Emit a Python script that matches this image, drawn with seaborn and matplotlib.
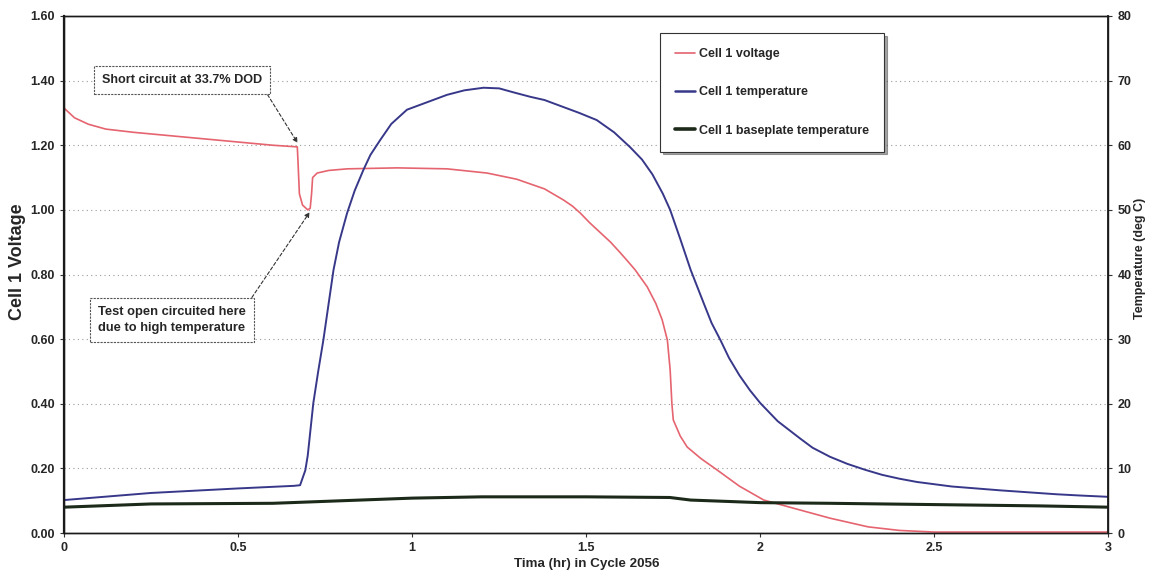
import matplotlib
matplotlib.use("Agg")
import matplotlib.pyplot as plt
import seaborn as sns
import pandas as pd
from matplotlib.lines import Line2D

# values
volt_t = [0.0, 0.03, 0.07, 0.12, 0.2, 0.3, 0.4, 0.5, 0.6, 0.67, 0.672, 0.676, 0.685, 0.70,
          0.707, 0.711, 0.714, 0.727, 0.76, 0.813, 0.957, 1.10, 1.215, 1.30, 1.38, 1.434,
          1.46, 1.483, 1.51, 1.54, 1.57, 1.598, 1.62, 1.64, 1.675, 1.70, 1.718, 1.733, 1.741,
          1.746, 1.75, 1.77, 1.79, 1.83, 1.876, 1.94, 2.01, 2.115, 2.2, 2.31, 2.4, 2.5, 3.0]
volt_v = [1.315, 1.285, 1.265, 1.25, 1.24, 1.23, 1.22, 1.21, 1.20, 1.195, 1.15, 1.05, 1.015,
          1.0, 1.005, 1.05, 1.10, 1.114, 1.122, 1.127, 1.13, 1.127, 1.114, 1.095, 1.065, 1.031,
          1.012, 0.99, 0.96, 0.93, 0.90, 0.867, 0.84, 0.815, 0.762, 0.71, 0.66, 0.597, 0.505,
          0.40, 0.35, 0.30, 0.266, 0.23, 0.195, 0.145, 0.102, 0.071, 0.046, 0.019, 0.008,
          0.003, 0.003]

temp_t = [0.0, 0.25, 0.5, 0.66, 0.678, 0.693, 0.70, 0.716, 0.73, 0.745, 0.76, 0.774, 0.79,
          0.813, 0.835, 0.86, 0.88, 0.908, 0.94, 0.985, 1.05, 1.10, 1.15, 1.205, 1.25, 1.29,
          1.339, 1.38, 1.43, 1.48, 1.53, 1.58, 1.626, 1.66, 1.69, 1.72, 1.741, 1.77, 1.80,
          1.84, 1.86, 1.885, 1.91, 1.94, 1.97, 2.0, 2.05, 2.115, 2.15, 2.2, 2.25, 2.3, 2.35,
          2.4, 2.45, 2.55, 2.62, 2.69, 2.77, 2.85, 2.92, 3.0]
temp_c = [5.1, 6.2, 6.9, 7.3, 7.4, 9.7, 12.0, 20.1, 25.0, 29.9, 35.5, 40.7, 45.0,
          49.5, 53.0, 56.2, 58.5, 60.8, 63.3, 65.5, 66.8, 67.8, 68.5, 68.9, 68.8, 68.2,
          67.5, 67.0, 66.0, 65.0, 63.9, 62.0, 59.7, 57.8, 55.5, 52.5, 50.0, 45.5, 40.7,
          35.2, 32.5, 29.9, 27.1, 24.4, 22.1, 20.1, 17.3, 14.6, 13.2, 11.8, 10.7, 9.8, 9.0,
          8.4, 7.9, 7.2, 6.9, 6.6, 6.3, 6.0, 5.8, 5.6]

base_t = [0.0, 0.25, 0.6, 0.8, 1.0, 1.2, 1.5, 1.74, 1.8, 2.0, 2.2, 2.5, 2.8, 3.0]
base_c = [4.0, 4.5, 4.6, 5.0, 5.4, 5.6, 5.6, 5.5, 5.1, 4.7, 4.6, 4.4, 4.2, 4.0]

labels = ["Cell 1 voltage", "Cell 1 temperature", "Cell 1 baseplate temperature"]
colors = ["#e5646f", "#38388a", "#1c2a1a"]

sns.set_style("white")
plt.rcParams["font.family"] = ["Liberation Sans", "DejaVu Sans"]
plt.rcParams["font.weight"] = "bold"

fig = plt.figure(figsize=(11.52, 5.86), dpi=100)
ax = fig.add_axes([0.0556, 0.0904, 0.9066, 0.8823])
ax2 = ax.twinx()

dv = pd.DataFrame({"t": volt_t, "v": volt_v})
dt = pd.DataFrame({"t": temp_t, "c": temp_c})
db = pd.DataFrame({"t": base_t, "c": base_c})

sns.lineplot(data=dv, x="t", y="v", ax=ax, color=colors[0], lw=1.2)
sns.lineplot(data=dt, x="t", y="c", ax=ax2, color=colors[1], lw=1.4)
sns.lineplot(data=db, x="t", y="c", ax=ax2, color=colors[2], lw=2.2)

ax.set_xlim(0, 3)
ax.set_ylim(0, 1.6)
ax2.set_ylim(0, 80)
ax.set_yticks([i * 0.2 for i in range(9)])
ax.set_yticklabels([f"{i * 0.2:.2f}" for i in range(9)], fontsize=9, fontweight="bold")
ax2.set_yticks(range(0, 81, 10))
ax2.set_yticklabels([str(v) for v in range(0, 81, 10)], fontsize=9, fontweight="bold")
ax.set_xticks([0, 0.5, 1, 1.5, 2, 2.5, 3])
ax.set_xticklabels(["0", "0.5", "1", "1.5", "2", "2.5", "3"], fontsize=9, fontweight="bold")
ax.tick_params(axis="both", length=3, direction="out", color="#333333", left=True, bottom=True)
ax2.tick_params(axis="y", length=3, direction="out", color="#333333", right=True)
ax.yaxis.grid(True, linestyle=(0, (1, 3)), color="#9a9a9a", lw=0.8)
ax.xaxis.grid(False)
ax2.grid(False)

ax.set_xlabel("Tima (hr) in Cycle 2056", fontsize=9.6, fontweight="bold", labelpad=3)
ax.set_ylabel("Cell 1 Voltage", fontsize=13, fontweight="bold")
ax.yaxis.set_label_coords(-0.036, 0.524)
ax2.set_ylabel("Temperature (deg C)", fontsize=9, fontweight="bold")
ax2.yaxis.set_label_coords(1.024, 0.532)

for a in (ax, ax2):
    for s in a.spines.values():
        s.set_color("#1a1a1a")
        s.set_linewidth(1.0)
ax.spines["left"].set_linewidth(1.6)
ax2.spines["right"].set_linewidth(1.3)

box = dict(boxstyle="square,pad=0.65", fc="white", ec="#555555", lw=0.8, ls=(0, (2, 1)))
ax.annotate("Short circuit at 33.7% DOD", xy=(0.675, 1.2), xytext=(0.339, 1.402),
            fontsize=9.1, fontweight="bold", bbox=box, va="center", ha="center",
            arrowprops=dict(arrowstyle="-|>", color="#333333", lw=0.8, ls=(0, (3, 2)),
                            shrinkA=0, shrinkB=2, mutation_scale=7,
                            relpos=(1.0, 0.0)))
ax.annotate("Test open circuited here\ndue to high temperature", xy=(0.71, 1.0),
            xytext=(0.31, 0.659), fontsize=9.3, fontweight="bold", bbox=box,
            va="center", ha="center", linespacing=1.4,
            arrowprops=dict(arrowstyle="-|>", color="#333333", lw=0.8, ls=(0, (3, 2)),
                            shrinkA=0, shrinkB=2, mutation_scale=7,
                            relpos=(1.0, 1.0)))

handles = [Line2D([], [], color=colors[0], lw=1.2),
           Line2D([], [], color=colors[1], lw=1.8),
           Line2D([], [], color=colors[2], lw=2.6)]
leg = ax2.legend(handles, labels, loc="upper left", bbox_to_anchor=(0.571, 0.967),
                 prop={"weight": "bold", "size": 9}, frameon=True, fancybox=False,
                 shadow=True, labelspacing=2.1, handlelength=1.6, handletextpad=0.3,
                 borderpad=1.2, borderaxespad=0)
leg.get_frame().set_edgecolor("#333333")
leg.get_frame().set_linewidth(0.8)

fig.savefig("out.png", dpi=100, facecolor="white")
